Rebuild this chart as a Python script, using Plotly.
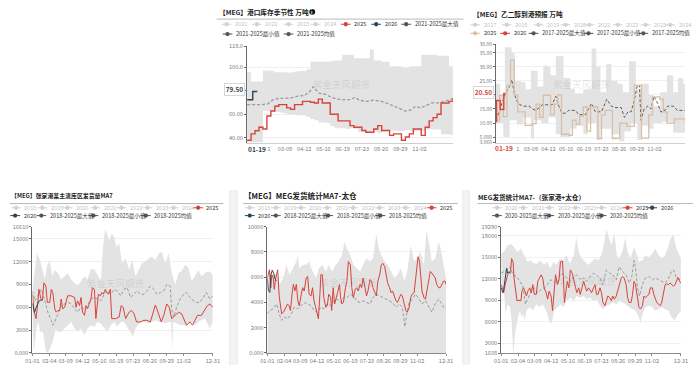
import pandas as pd
import plotly.graph_objects as go

# ======================= DATA =======================
BASE = "2025-01-01"

# ---- Chart A: 【MEG】港口库存季节性 万吨 (weekly) ----
a_week_days = list(range(0, 365, 7))
a_2025 = [37.8, 43.3, 46, 48.9, 47.5, 58.6, 62.8, 66.9, 68.3, 68.3, 65.5, 64.2, 68.3, 68.3, 71.1, 71.1,
          70.3, 69.7, 73, 69.7, 69.7, 60, 60, 54.4, 54.4, 54.4, 50.3, 48.9, 48.9, 46.1, 44.7, 44.7, 47.5,
          50.3, 46.1, 46.1, 42, 43.3, 43.3, 37.8, 40.6, 43.3, 47.5, 47.5, 42, 48.9, 54.4, 57.2, 60, 69.7,
          69.7, 71.1, 73.9]
a_max = [96, 88, 88, 88, 97.5, 97.5, 97, 96, 96, 96, 95.5, 96, 96.5, 97, 97, 98.6, 105, 105, 105, 105,
         105, 105.5, 106, 106, 111, 111, 111, 108, 108, 108, 108, 115.5, 106, 106, 105, 105, 101, 101,
         101, 100, 100, 101, 101, 101, 111, 111, 111, 111, 110, 110, 110, 101, 101]
a_min = [36, 36, 36, 36, 62.8, 62.8, 62.5, 62, 61.5, 61, 60, 60, 59.5, 59.5, 59, 58, 56, 55, 53, 53,
         52.5, 50, 48.5, 48, 48, 47.5, 48, 47.5, 45, 45, 44.5, 45, 45, 44, 45, 45.5, 46, 46, 45.5, 46,
         46.5, 46, 45.5, 46, 46, 47, 47.5, 47, 47, 43, 43, 42.5, 43]
a_avg_days = [0, 26, 37, 46, 55, 66, 78, 90, 101, 110, 117, 127, 139, 147, 159, 170, 182, 191, 199, 211,
              222, 234, 245, 257, 269, 280, 289, 298, 306, 315, 326, 338, 350, 364]
a_avg = [68.3, 68.3, 69, 72.5, 73.5, 74, 74, 75.5, 76, 79, 83.6, 78, 77, 75, 73, 72.5, 72.5, 74.5, 72,
         71, 72, 71.5, 70, 67.5, 65, 62.8, 63.5, 66.9, 65.5, 67, 69.7, 69.7, 71, 73.5]
a_2026_days = [0, 10, 18]
a_2026 = [72.5, 79.5, 79.5]
a_last_value = "79.50"
a_last_date = "01-19"
a_legend = ["2021", "2022", "2023", "2024", "2025", "2026", "2021-2025最大值", "2021-2025最小值", "2021-2025均值"]

# ---- Chart B: 【MEG】乙二醇到港预报 万吨 (weekly) ----
b_week_days = list(range(0, 365, 7))
b_2025 = [11, 19.9, 12.3, 23.4, 32.4, 20, 14, 14, 9.2, 9.2, 9.8, 16.7, 12, 19.9, 19.9, 13, 16.7, 20, 6, 6,
          5.6, 11, 9.5, 12.5, 15.8, 7.1, 15.8, 15.8, 4.5, 12.9, 14.5, 14.5, 4.5, 4.6, 10, 10, 8.8, 8.8,
          23.4, 23.4, 4.6, 4.6, 12.9, 19.3, 19.3, 18.5, 14, 10, 10, 11.5, 11.5, 11.5, 10.5]
b_max_days = [0, 8, 17, 30, 36, 48, 57, 67, 80, 91, 99, 105, 115, 130, 143, 152, 168, 184, 193, 201, 212,
              222, 234, 244, 256, 269, 278, 294, 303, 316, 329, 341, 350, 360, 364]
b_max = [24, 20, 37, 35, 25, 24.5, 22, 28.6, 23, 30.5, 30, 27, 33.8, 26, 22, 20.5, 22, 36.5, 30, 21, 31,
         25, 24, 21, 32, 22, 24, 20, 16, 21, 27, 21, 26, 24, 24]
b_min_days = [0, 14, 26, 40, 53, 67, 73, 87, 101, 115, 124, 143, 155, 168, 176, 193, 201, 222, 237, 247,
              260, 272, 281, 292, 303, 320, 341, 364]
b_min = [10, 5, 11, 9.5, 12, 4.5, 11, 10, 12, 6, 5, 8, 9, 6, 10, 4, 8, 6, 3.5, 7, 10, 4, 9, 8, 10, 10.5,
         6.5, 6.5]
b_avg_days = [0, 17, 26, 30, 36, 42, 52, 64, 70, 77, 89, 108, 115, 121, 127, 134, 140, 153, 159, 172, 178,
              184, 191, 203, 213, 222, 228, 241, 247, 254, 260, 266, 272, 276, 279, 285, 292, 298, 304,
              311, 317, 323, 330, 342, 349, 361, 364]
b_avg = [11, 20, 23, 25.5, 20, 17, 16, 16, 15, 14.5, 16.5, 16.5, 19.5, 16, 13.5, 13.5, 14.5, 14.5, 13, 13,
         15, 17, 14, 14, 18.5, 16, 15.5, 15.5, 12, 14, 14, 18, 23.5, 23.5, 11, 15, 16, 15, 19.5, 17, 14,
         14, 16, 16, 14.5, 14.5, 14.5]
b_2026_days = [0, 1, 8, 15, 18]
b_2026 = [10.5, 18, 14.8, 20.5, 20.5]
b_last_value = "20.50"
b_last_date = "01-19"
b_legend = ["2017", "2018", "2019", "2020", "2021", "2022", "2023", "2024", "2025", "2026",
            "2017-2025最大值", "2017-2025最小值", "2017-2025均值"]

# ---- Chart C: 【MEG】张家港某主流库区发货量MA7 ----
c_red_days = [0, 3, 7, 10, 13, 17, 20, 23, 27, 30, 35, 38, 41, 45, 48, 51, 55, 58, 61, 65, 71, 78, 85, 88,
              91, 95, 98, 101, 105, 108, 111, 115, 118, 121, 125, 128, 130, 133, 137, 140, 143, 147, 150,
              153, 157, 160, 168, 175, 179, 183, 188, 195, 200, 205, 210, 218, 225, 231, 238, 245, 248,
              251, 256, 260, 265, 271, 276, 281, 288, 295, 301, 307, 311, 318, 323, 328, 333, 341, 348,
              353, 358, 364]
c_2025 = [7720, 5580, 4510, 6010, 8360, 7080, 6860, 9220, 8790, 6650, 6650, 8360, 7940, 5790, 5360, 5580,
          5580, 7080, 5790, 6010, 7510, 7510, 7290, 6010, 6860, 6220, 7290, 5360, 4940, 6220, 5790, 6440,
          7080, 8580, 8360, 4510, 6010, 7720, 7510, 7940, 7720, 8360, 7940, 7720, 8360, 4510, 4510, 4720,
          6220, 6010, 4510, 5360, 5580, 5150, 4080, 4080, 4290, 4290, 4080, 5580, 6300, 5800, 4720, 4080,
          4940, 6440, 6010, 4510, 4940, 5360, 5150, 4080, 3650, 4080, 3650, 4290, 4940, 4940, 5790, 6220,
          6440, 6010]
c_avg_days = [0, 5, 11, 18, 25, 31, 38, 41, 45, 51, 58, 65, 71, 78, 85, 91, 98, 105, 111, 118, 125, 131,
              138, 145, 151, 158, 165, 171, 178, 185, 191, 198, 205, 211, 218, 225, 231, 238, 245, 251,
              258, 265, 271, 278, 281, 285, 291, 298, 305, 311, 318, 325, 331, 338, 345, 351, 358, 364]
c_avg = [8150, 6860, 7510, 8360, 6860, 5360, 4290, 3650, 4080, 5150, 6220, 6440, 6650, 6440, 5790, 5360,
         6010, 5790, 6220, 7080, 7290, 7080, 6860, 7720, 8150, 7720, 8360, 8150, 7510, 8360, 8580, 7290,
         7720, 8150, 7720, 7720, 8150, 8790, 8360, 7720, 7940, 8150, 9010, 8790, 5790, 4720, 6010, 7080,
         7720, 7940, 7290, 6860, 6650, 6650, 7290, 7940, 7080, 7510]
c_max_days = [0, 5, 9, 15, 20, 25, 29, 35, 40, 45, 51, 58, 65, 71, 78, 85, 91, 98, 105, 111, 118, 125, 131,
              138, 143, 147, 150, 155, 160, 165, 169, 175, 181, 188, 195, 201, 208, 215, 221, 228, 235,
              241, 248, 255, 261, 268, 275, 281, 288, 295, 301, 308, 315, 321, 328, 335, 341, 348, 355,
              361, 364]
c_max = [8360, 10940, 13080, 12220, 10940, 9650, 11360, 12220, 10080, 10940, 10510, 9650, 10080, 10510,
         9650, 9220, 8790, 9440, 10080, 9650, 11000, 11000, 10290, 9440, 14360, 16290, 15650, 14790,
         15650, 15220, 13940, 14360, 11790, 12440, 10940, 12220, 10080, 10940, 11790, 12010, 12440, 12650,
         12220, 13080, 13290, 11790, 13080, 10510, 9010, 10510, 10720, 11580, 11150, 9440, 10080, 10940,
         10080, 10510, 10720, 10510, 10290]
c_min_days = [0, 3, 7, 11, 16, 21, 27, 31, 36, 41, 47, 51, 58, 65, 71, 78, 85, 91, 98, 105, 111, 118, 125,
              131, 138, 145, 151, 158, 165, 171, 178, 185, 191, 198, 203, 208, 215, 221, 228, 235, 241,
              248, 255, 261, 268, 275, 280, 282, 284, 291, 301, 308, 315, 321, 328, 335, 341, 348, 355,
              358, 364]
c_min = [4080, 220, 2790, 4080, 2790, 2790, 220, 10, 650, 1510, 3220, 2790, 2790, 3220, 3650, 4080, 3220,
         2790, 3220, 2360, 3220, 3650, 3440, 4080, 3860, 3220, 2790, 3650, 4080, 3440, 4080, 4080, 3440,
         2790, 2150, 3220, 3860, 4080, 4080, 3860, 4080, 4290, 4080, 4080, 3860, 4080, 4080, 10, 4080,
         3860, 3650, 3650, 3860, 4080, 3650, 4080, 4290, 4510, 3650, 3220, 4080]
c_2026_days = [0, 2, 4, 7, 10, 13, 16, 19]
c_2026 = [6500, 5800, 5300, 5900, 6400, 6800, 6900, 7000]
c_legend = ["2018", "2019", "2020", "2021", "2022", "2023", "2024", "2025", "2026",
            "2018-2025最大值", "2018-2025最小值", "2018-2025均值"]

# ---- Chart D: 【MEG】MEG发货统计MA7-太仓 ----
d_red_days = [0, 2, 4, 7, 9, 12, 14, 17, 19, 21, 24, 27, 29, 33, 37, 41, 44, 47, 51, 53, 56, 59, 62, 65,
              69, 72, 75, 79, 82, 85, 89, 92, 95, 99, 102, 104, 107, 109, 112, 115, 119, 122, 125, 129,
              131, 134, 137, 140, 143, 147, 149, 152, 155, 159, 162, 165, 169, 172, 175, 179, 182, 185,
              189, 192, 195, 199, 202, 205, 209, 212, 215, 219, 222, 225, 229, 232, 235, 239, 242, 245,
              249, 252, 255, 259, 262, 265, 269, 272, 275, 279, 282, 285, 289, 292, 295, 299, 302, 305,
              307, 310, 312, 315, 319, 322, 325, 329, 332, 335, 339, 342, 345, 349, 352, 355, 359, 362,
              364]
d_2025 = [5940, 6460, 6590, 5170, 6200, 5940, 5040, 5940, 6200, 6590, 4520, 3360, 3100, 3230, 3620, 3880,
          3750, 3360, 4910, 5430, 4910, 5430, 4130, 3750, 4650, 5170, 4910, 5940, 6070, 4650, 4520, 5170,
          4130, 3490, 3100, 2710, 4650, 6200, 6200, 4390, 3620, 3750, 4650, 4390, 3360, 5170, 3880, 4260,
          4780, 5430, 4390, 3880, 4000, 5170, 5690, 7240, 6980, 5170, 4390, 5040, 5170, 4910, 5430, 5170,
          5940, 5170, 4520, 4910, 5810, 5690, 5170, 4780, 4520, 5690, 6200, 6980, 7110, 6850, 6200, 5560,
          5170, 4780, 4910, 4390, 4130, 4000, 4390, 4650, 4520, 3750, 3360, 3230, 3620, 4390, 4650, 4780,
          5940, 6980, 7620, 7240, 5940, 4910, 4390, 4260, 4910, 5940, 6460, 6330, 6070, 5940, 5430, 5170,
          5170, 5430, 5690, 5690, 5430]
d_avg_days = [0, 5, 12, 19, 24, 29, 35, 42, 49, 55, 62, 69, 75, 82, 89, 95, 102, 109, 115, 122, 129, 135,
              142, 149, 155, 162, 169, 175, 182, 189, 195, 202, 209, 215, 222, 229, 235, 242, 249, 255,
              262, 269, 275, 280, 284, 289, 295, 302, 309, 315, 322, 329, 335, 342, 349, 355, 362, 364]
d_avg = [3100, 3360, 3490, 3880, 3100, 2580, 2840, 2710, 3100, 3620, 3490, 3750, 4000, 3880, 3750, 3360,
         3230, 3620, 3490, 3880, 3750, 4130, 4260, 4000, 4390, 4390, 4650, 4520, 4130, 4000, 4130, 4000,
         3880, 4390, 4650, 4520, 4390, 4260, 4130, 4000, 3620, 3880, 3620, 2070, 3100, 4000, 4260, 4650,
         4260, 3880, 4130, 3620, 3230, 3880, 4260, 3880, 3490, 3490]
d_max_days = [0, 5, 12, 19, 25, 32, 39, 45, 52, 59, 62, 65, 72, 79, 85, 92, 99, 105, 112, 119, 125, 132,
              139, 145, 152, 157, 162, 169, 175, 182, 189, 195, 202, 209, 215, 222, 227, 232, 239, 245,
              252, 259, 265, 272, 279, 285, 292, 299, 305, 312, 319, 324, 329, 335, 342, 349, 353, 359, 364]
d_max = [6200, 5940, 6200, 6200, 5430, 5940, 6980, 6200, 6720, 7240, 7750, 6720, 6980, 6980, 7240, 6460,
         5940, 6720, 6980, 6460, 6980, 6460, 6980, 7240, 7750, 8790, 8270, 7750, 6980, 6720, 6460, 6980,
         7490, 7240, 7490, 9430, 8270, 7750, 7240, 6980, 6460, 5940, 6200, 6720, 5690, 6460, 8530, 7240,
         7490, 8010, 6980, 9690, 8790, 7240, 7490, 8790, 8270, 6980, 5940]
d_2026_days = [0, 2, 5, 7, 10, 13, 15, 18]
d_2026 = [5900, 4950, 4800, 6200, 6550, 6300, 5950, 5700]
d_legend = c_legend

# ---- Chart E: MEG发货统计MA7-（张家港+太仓） ----
e_red_days = [0, 3, 5, 8, 11, 13, 16, 19, 21, 24, 26, 29, 32, 36, 40, 42, 45, 48, 51, 54, 58, 61, 64, 67,
              71, 74, 77, 81, 84, 87, 91, 94, 97, 101, 104, 107, 110, 114, 117, 120, 124, 126, 128, 131,
              134, 137, 140, 144, 147, 150, 153, 157, 160, 163, 167, 170, 173, 177, 180, 183, 187, 190,
              193, 196, 200, 203, 206, 210, 213, 216, 220, 223, 226, 229, 233, 236, 239, 243, 246, 249,
              253, 256, 259, 263, 266, 269, 272, 276, 279, 282, 286, 289, 292, 296, 299, 302, 306, 309,
              312, 315, 319, 322, 325, 329, 332, 335, 339, 342, 345, 349, 352, 355, 358, 362, 364]
e_2025 = [11200, 10290, 10070, 11200, 12340, 12570, 12790, 13020, 14840, 14380, 12110, 10290, 8930, 9020,
          8930, 10290, 10750, 10290, 9610, 10290, 10750, 10070, 11200, 9840, 9840, 11660, 12110, 12570,
          12110, 10750, 10070, 9160, 10290, 9610, 7560, 10750, 12570, 11200, 11880, 14380, 14480, 12110,
          8700, 10290, 11660, 10750, 13250, 12790, 11660, 10970, 10070, 10750, 9840, 10750, 11660, 10970,
          10290, 10750, 10290, 10070, 10750, 11200, 9840, 9840, 10750, 10070, 8700, 8250, 8930, 9610,
          9380, 8930, 9610, 9160, 9610, 10290, 11200, 12110, 12340, 12110, 11200, 9380, 8700, 8700, 9840,
          11660, 11200, 9610, 8020, 7790, 8250, 9610, 9380, 9610, 9840, 10750, 10750, 9840, 9160, 8700,
          8470, 8250, 8700, 10070, 11200, 11290, 11200, 11430, 11200, 10970, 11200, 11880, 12200, 11570,
          11430]
e_avg_days = [0, 5, 11, 18, 24, 31, 38, 44, 49, 54, 61, 67, 74, 81, 87, 94, 100, 107, 114, 120, 127, 134,
              140, 147, 153, 160, 167, 173, 180, 187, 193, 200, 206, 213, 220, 226, 233, 239, 246, 253,
              259, 264, 269, 272, 276, 280, 286, 292, 299, 306, 312, 319, 325, 332, 339, 345, 349, 355, 364]
e_avg = [12790, 13020, 13250, 13700, 12570, 12340, 11660, 10970, 8470, 9160, 10290, 10750, 10070, 10520,
         10750, 11200, 11880, 11660, 11430, 12790, 12570, 12110, 11660, 12340, 12570, 11880, 12110, 11660,
         12340, 12790, 12570, 12110, 11200, 13250, 12790, 12570, 11880, 13700, 13020, 12570, 11430, 12110,
         14570, 13480, 10750, 9610, 11200, 12110, 12340, 11880, 12110, 11880, 11660, 11430, 12110, 13020,
         13250, 12110, 11880]
e_max_days = [0, 7, 13, 20, 26, 33, 40, 46, 53, 60, 66, 73, 79, 86, 93, 99, 106, 112, 119, 126, 132, 139,
              147, 152, 157, 163, 170, 177, 183, 190, 196, 203, 208, 213, 218, 223, 229, 234, 239, 246,
              251, 256, 262, 269, 274, 279, 286, 292, 299, 306, 312, 319, 325, 332, 339, 344, 349, 353,
              358, 364]
e_max = [15520, 15980, 16660, 16880, 16430, 15750, 16200, 15290, 14380, 14610, 14160, 14160, 14610, 13930,
         14380, 13480, 14380, 13930, 14840, 14610, 15290, 14160, 15290, 17790, 15750, 14840, 14380, 13930,
         14380, 14840, 14610, 15290, 16880, 18930, 17790, 16660, 18480, 15290, 14840, 15980, 17790, 15750,
         14840, 16430, 15520, 14380, 14610, 15290, 15070, 15520, 16200, 15290, 14840, 15290, 16660, 17790,
         18250, 16660, 15750, 14840]
e_min_days = [0, 5, 9, 13, 18, 21, 24, 25, 28, 31, 34, 38, 41, 44, 48, 51, 58, 64, 71, 77, 84, 91, 97, 102,
              107, 114, 120, 126, 132, 140, 147, 153, 160, 167, 173, 180, 187, 193, 200, 206, 213, 220,
              226, 233, 239, 246, 252, 259, 266, 272, 279, 282, 286, 292, 299, 306, 312, 319, 325, 332,
              339, 345, 351, 355, 364]
e_min = [10290, 10750, 7110, 8470, 8020, 6200, 2110, 1650, 4380, 5750, 6660, 7560, 6660, 7110, 6200, 7560,
         8020, 7560, 8470, 8020, 8470, 7560, 6200, 5750, 7560, 8020, 8470, 8020, 8930, 9380, 8930, 9610,
         9380, 9610, 9160, 9380, 8930, 9160, 8250, 7790, 8250, 8470, 8700, 8470, 8930, 8700, 8470, 8020,
         7790, 7560, 6660, 5750, 7110, 8020, 8250, 8020, 7560, 7790, 8020, 7790, 7560, 6660, 6200, 6660, 7560]
e_2026_days = [0, 3, 5, 8, 11, 13, 16, 19]
e_2026 = [10750, 10070, 10520, 12110, 13480, 12790, 13020, 12790]
e_legend = ["2020", "2021", "2022", "2023", "2024", "2025", "2026",
            "2020-2025最大值", "2020-2025最小值", "2020-2025均值"]

# tick labels
top_ticks = ["1", "03-09", "04-12", "05-16", "06-19", "07-23", "08-26", "09-29", "11-02"]
top_tick_dates_a = ["02-09", "03-09", "04-12", "05-16", "06-19", "07-23", "08-26", "09-29", "11-02"]
top_tick_dates_b = ["02-12", "03-09", "04-12", "05-16", "06-19", "07-23", "08-26", "09-29", "11-02"]
bot_ticks = ["01-01", "02-04", "03-09", "04-12", "05-16", "06-19", "07-23", "08-26", "09-29", "11-02", "12-31"]

titles = ["【MEG】港口库存季节性 万吨", "【MEG】乙二醇到港预报 万吨", "【MEG】张家港某主流库区发货量MA7",
          "【MEG】MEG发货统计MA7-太仓", "MEG发货统计MA7-（张家港+太仓）"]
watermark = "紫金天风期货"

# ======================= STYLE / HELPERS =======================
W, H = 700, 368
FONT = "Noto Sans CJK SC"
RED = "#d8433b"
DARK = "#2f4554"
TAN = "#d9bfa6"
STAT = "#555555"
LIGHT = "#d2d2d2"
BAND = "#e3e3e3"
DASH = "3px,2px"


def dts(days):
    b = pd.Timestamp(BASE)
    return [(b + pd.Timedelta(days=int(d))).strftime("%Y-%m-%d") for d in days]


def px(x):
    return x / W


def py(y):
    return 1 - y / H


fig = go.Figure()
shapes, annos = [], []


def tr(xa, days, vals, color, width, dash="solid", shape="linear", fill=None, fillcolor=None):
    fig.add_trace(go.Scatter(x=dts(days), y=vals, xaxis=xa, yaxis=xa.replace("x", "y"), mode="lines",
                             line=dict(color=color, width=width, dash=dash, shape=shape),
                             fill=fill, fillcolor=fillcolor, hoverinfo="skip", showlegend=False))


def band(xa, dmin, vmin, dmax, vmax, shape="linear"):
    tr(xa, dmin, vmin, "rgba(0,0,0,0)", 0, shape=shape)
    tr(xa, dmax, vmax, "rgba(0,0,0,0)", 0, shape=shape, fill="tonexty", fillcolor=BAND)


layout_axes = {}


def axes(n, xdom, ydom, yrange, yvals, ytext, xvals, xtext, top, yfont=5.6):
    xk = "xaxis" if n == 1 else "xaxis%d" % n
    yk = "yaxis" if n == 1 else "yaxis%d" % n
    xa = "x" if n == 1 else "x%d" % n
    ya = "y" if n == 1 else "y%d" % n
    layout_axes[xk] = dict(domain=[px(xdom[0]), px(xdom[1])], anchor=ya, type="date",
                           range=["2025-01-01", "2025-12-31"], tickvals=xvals, ticktext=xtext,
                           showgrid=False, zeroline=False, showline=True,
                           linecolor="#d0d0d0" if top else "#8c8c8c", linewidth=1.6 if top else 1,
                           ticks="" if top else "outside", ticklen=2, tickcolor="#8c8c8c",
                           tickfont=dict(size=5.6, color="#7a7a7a"), tickangle=0)
    layout_axes[yk] = dict(domain=[py(ydom[1]), py(ydom[0])], anchor=xa, range=yrange,
                           tickvals=yvals, ticktext=ytext, showgrid=True, gridcolor="#ececec",
                           gridwidth=0.8, zeroline=False, showline=True, linecolor="#6a6a6a",
                           linewidth=1, ticks="outside", ticklen=2, tickcolor="#6a6a6a",
                           tickfont=dict(size=yfont, color="#7a7a7a"))


def text(x, y, s, size, color, anchor="left", bold=False, **kw):
    annos.append(dict(x=px(x), y=py(y), xref="paper", yref="paper", text=("<b>%s</b>" % s) if bold else s,
                      showarrow=False, xanchor=anchor, yanchor="middle",
                      font=dict(size=size, color=color, family=FONT), **kw))


def leg(cx, cy, color, label, tcolor):
    shapes.append(dict(type="line", xref="paper", yref="paper", x0=px(cx - 5), x1=px(cx + 5),
                       y0=py(cy), y1=py(cy), line=dict(color=color, width=1)))
    shapes.append(dict(type="circle", xref="paper", yref="paper", x0=px(cx - 2.2), x1=px(cx + 2.2),
                       y0=py(cy + 2.2), y1=py(cy - 2.2), fillcolor=color, line=dict(width=0)))
    text(cx + 6.5, cy, label, 5.6, tcolor)


def hline(x0, x1, y, color="#c8c8c8", w=1.0):
    shapes.append(dict(type="line", xref="paper", yref="paper", x0=px(x0), x1=px(x1), y0=py(y), y1=py(y),
                       line=dict(color=color, width=w)))


# ======================= CHART A =======================
band("x", a_week_days, a_min, a_week_days, a_max, shape="hv")
tr("x", a_avg_days, a_avg, "#9a9a9a", 1.3, dash=DASH)
tr("x", a_week_days, a_2025, RED, 1.4, shape="hv")
tr("x", a_2026_days, a_2026, DARK, 1.4, shape="hv")
axes(1, (245, 455), (43.4, 141.7), [35.8, 118], [40, 60, 80, 100, 118],
     ["40.00", "60.00", "", "100.0", "118.0"], ["2025-" + d for d in top_tick_dates_a], top_ticks, True)

# ======================= CHART B =======================
band("x2", b_min_days, b_min, b_max_days, b_max, shape="hv")
tr("x2", b_avg_days, b_avg, "#5a5a5a", 1.0, dash=DASH)
tr("x2", b_week_days, b_2025, TAN, 1.3, shape="hv")
tr("x2", b_2026_days, b_2026, RED, 1.4, shape="hv")
axes(2, (499, 692), (41.3, 141.6), [3.06, 38], [3.06, 5, 10, 15, 20, 25, 30, 35, 38],
     ["3.060", "5.000", "10.00", "15.00", "", "25.00", "30.00", "35.00", "38.00"],
     ["2025-" + d for d in top_tick_dates_b], top_ticks, True, yfont=5.0)

# ======================= CHART C =======================
band("x3", c_min_days, c_min, c_max_days, c_max)
tr("x3", c_avg_days, c_avg, "#9a9a9a", 1.0, dash=DASH)
tr("x3", c_red_days, c_2025, RED, 1.0)
tr("x3", c_2026_days, c_2026, DARK, 1.0)
axes(3, (26, 210), (227.5, 356.7), [0, 16610], [0, 3000, 6000, 9000, 12000, 15000, 16610],
     ["0.000", "3000", "6000", "9000", "12000", "15000", "16610"], ["2025-" + d for d in bot_ticks],
     bot_ticks, False)

# ======================= CHART D =======================
tr("x4", d_max_days, d_max, "rgba(0,0,0,0)", 0, fill="tozeroy", fillcolor=BAND)
tr("x4", d_avg_days, d_avg, "#9a9a9a", 1.0, dash=DASH)
tr("x4", d_red_days, d_2025, RED, 1.0)
tr("x4", d_2026_days, d_2026, DARK, 1.0)
axes(4, (265.7, 448), (227.7, 356.7), [0, 10000], [0, 2000, 4000, 6000, 8000, 10000],
     ["0.000", "2000", "4000", "6000", "8000", "10000"], ["2025-" + d for d in bot_ticks], bot_ticks, False)

# ======================= CHART E =======================
band("x5", e_min_days, e_min, e_max_days, e_max)
tr("x5", e_avg_days, e_avg, "#9a9a9a", 1.0, dash=DASH)
tr("x5", e_red_days, e_2025, RED, 1.0)
tr("x5", e_2026_days, e_2026, DARK, 1.0)
axes(5, (504.3, 687.7), (227.7, 357), [1608, 19290], [1608, 3000, 6000, 9000, 12000, 15000, 18000, 19290],
     ["1608", "3000", "6000", "9000", "12000", "15000", "18000", "19290"], ["2025-" + d for d in bot_ticks],
     bot_ticks, False)

# ======================= DECORATION =======================
text(214, 8, titles[0], 6.7, "#222222", bold=True)
shapes.append(dict(type="circle", xref="paper", yref="paper", x0=px(308.5), x1=px(314.5), y0=py(11), y1=py(5),
                   fillcolor="#111111", line=dict(width=0)))
text(311.5, 8, "i", 4.6, "#ffffff", anchor="center", bold=True)
hline(214, 466, 15.5, "#c8c8c8", 1.2)
text(473, 10.3, titles[1], 6.7, "#222222", bold=True)
text(2, 196, titles[2], 5.9, "#222222", bold=True)
hline(3, 221, 204, "#b8b8b8", 1.0)
text(240, 196, titles[3], 7.6, "#222222", bold=True)
hline(241, 460, 204, "#b8b8b8", 1.0)
text(479, 197, titles[4], 6.6, "#222222", bold=True)
hline(480, 700, 204, "#b8b8b8", 1.0)

for x0, x1 in [(227, 235), (465, 472)]:
    shapes.append(dict(type="rect", xref="paper", yref="paper", x0=px(x0), x1=px(x1), y0=py(368), y1=py(191),
                       fillcolor="#f3f3f3", line=dict(color="#e4e4e4", width=0.6)))

LT = "#c6c6c6"
TX = "#333333"
for cx, lab in zip([224, 255, 287.3, 315], a_legend[:4]):
    leg(cx, 20.7, LIGHT, lab, LT)
leg(345.7, 20.7, RED, a_legend[4], TX)
leg(376.7, 20.7, DARK, a_legend[5], TX)
leg(407.3, 20.7, STAT, a_legend[6], TX)
leg(225, 30.7, STAT, a_legend[7], TX)
leg(287.3, 30.7, STAT, a_legend[8], TX)
for cx, lab in zip([477.7, 510, 542.3, 570, 594.3, 623.3, 651.7, 676.7], b_legend[:8]):
    leg(cx, 21.3, LIGHT, lab, LT)
leg(477.7, 30, TAN, b_legend[8], TX)
leg(508.3, 30, RED, b_legend[9], TX)
leg(537.3, 30, STAT, b_legend[10], TX)
leg(593.3, 30, STAT, b_legend[11], TX)
leg(649.3, 30, STAT, b_legend[12], TX)
for cx, lab in zip([9.3, 36, 61.7, 90, 116.7, 143.3, 170], c_legend[:7]):
    leg(cx, 208.3, LIGHT, lab, LT)
leg(195, 208.3, RED, c_legend[7], TX)
leg(8.3, 216.3, DARK, c_legend[8], TX)
leg(35, 216.3, STAT, c_legend[9], TX)
leg(88.3, 216.3, STAT, c_legend[10], TX)
leg(141.7, 216.3, STAT, c_legend[11], TX)
for cx, lab in zip([247.7, 274.3, 300, 326.7, 353.3, 380, 406.7], d_legend[:7]):
    leg(cx, 208.3, LIGHT, lab, LT)
leg(433.3, 208.3, RED, d_legend[7], TX)
leg(247.7, 216.3, DARK, d_legend[8], TX)
leg(274.3, 216.3, STAT, d_legend[9], TX)
leg(327.7, 216.3, STAT, d_legend[10], TX)
leg(381, 216.3, STAT, d_legend[11], TX)
for cx, lab in zip([500, 526.7, 553.3, 580, 606.7], e_legend[:5]):
    leg(cx, 208.3, LIGHT, lab, LT)
leg(633.3, 208.3, RED, e_legend[5], TX)
leg(658.3, 208.3, DARK, e_legend[6], TX)
leg(500, 216.3, STAT, e_legend[7], TX)
leg(553.3, 216.3, STAT, e_legend[8], TX)
leg(606.7, 216.3, STAT, e_legend[9], TX)

text(231.7, 87.5, a_last_value, 6.4, DARK, anchor="center", bold=True,
     bordercolor="#cfcfcf", borderwidth=0.8, bgcolor="#ffffff", borderpad=1)
text(255.4, 148.3, a_last_date, 6.6, DARK, anchor="center", bold=True)
text(486, 90.8, b_last_value, 6.4, RED, anchor="center", bold=True,
     bordercolor="#cfcfcf", borderwidth=0.8, bgcolor="#ffffff", borderpad=1)
text(507.5, 146.7, b_last_date, 6.6, RED, anchor="center", bold=True)

for (wx, wy) in [(341, 82), (586, 82), (111, 285), (348, 284), (592, 283)]:
    text(wx, wy, watermark, 9.5, "rgba(140,140,140,0.22)", anchor="center")

fig.update_layout(width=W, height=H, margin=dict(l=0, r=0, t=0, b=0), paper_bgcolor="#ffffff",
                  plot_bgcolor="#ffffff", font=dict(family=FONT, size=6, color="#666"),
                  showlegend=False, shapes=shapes, annotations=annos, **layout_axes)

fig.write_html("out.html", config={"displayModeBar": False, "staticPlot": True},
               post_script="document.body.style.margin='0px';")
